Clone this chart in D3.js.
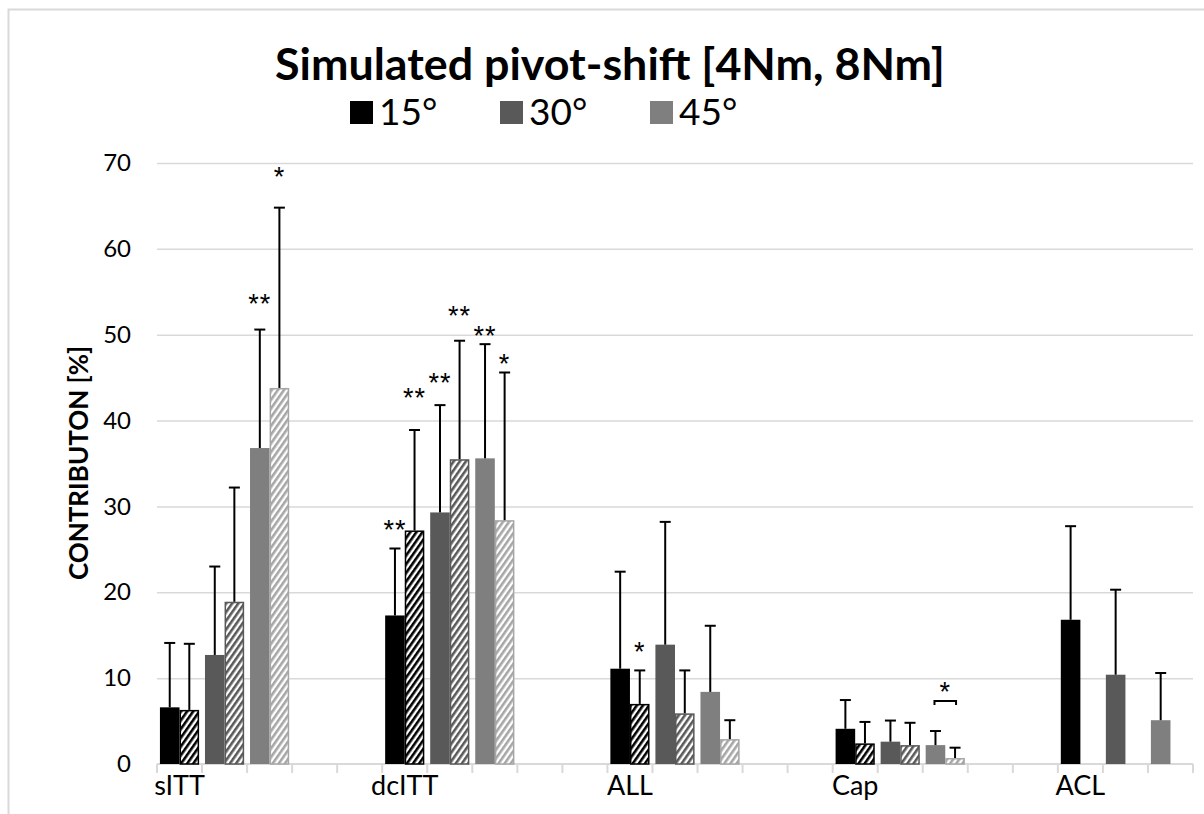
<!DOCTYPE html>
<html><head><meta charset="utf-8">
<script src="https://cdn.jsdelivr.net/npm/d3@7"></script>
<style>
html,body{margin:0;padding:0;background:#fff;}
svg{display:block;font-family:Lato,"Open Sans",sans-serif;}
</style></head>
<body>
<svg id="chart" width="1204" height="814"></svg>
<script>
// ---------- data ----------
const categories = ["sITT", "dcITT", "ALL", "Cap", "ACL"];
const angles = ["15°", "30°", "45°"];
const tickValues = [0, 10, 20, 30, 40, 50, 60, 70];
// mean contribution [%] (solid = 4Nm, hatched = 8Nm)
const solidMean = [[6.6, 12.7, 36.8], [17.3, 29.3, 35.6], [11.1, 13.9, 8.4], [4.1, 2.6, 2.2], [16.8, 10.4, 5.1]];
const solidSD   = [[7.5, 10.3, 13.8], [7.8, 12.5, 13.3], [11.3, 14.3, 7.7], [3.35, 2.46, 1.64], [10.9, 9.9, 5.5]];
const hatchMean = [[6.3, 18.9, 43.8], [27.2, 35.5, 28.4], [7.0, 5.9, 2.9], [2.4, 2.2, 0.7], [null, null, null]];
const hatchSD   = [[7.7, 13.3, 21.0], [11.7, 13.8, 17.2], [3.9, 5.0, 2.2], [2.5, 2.6, 1.2], [null, null, null]];
// significance marks: [category, angle, bar, value, text]
const sigMarks = [
  ["sITT", "45°", "solid", 54.3, "**"], ["sITT", "45°", "hatched", 69.1, "*"],
  ["dcITT", "15°", "solid", 28.0, "**"], ["dcITT", "15°", "hatched", 43.3, "**"],
  ["dcITT", "30°", "solid", 45.1, "**"], ["dcITT", "30°", "hatched", 52.9, "**"],
  ["dcITT", "45°", "solid", 50.5, "**"], ["dcITT", "45°", "hatched", 47.3, "*"],
  ["ALL", "15°", "hatched", 13.8, "*"],
  ["Cap", "45°", "bracket", 9.1, "*"]
];
const capBracket = ["Cap", "45°", 7.33];

const solidColors = ["#000000", "#595959", "#7f7f7f"];
const hatchColors = ["#000000", "#595959", "#a6a6a6"];

// ---------- layout ----------
const svg = d3.select("#chart");
const L = 157, R = 1193, T = 163, B = 764;

// slots: 3 angle slots per category + 2 gap slots between categories
const slots = [];
categories.forEach((c, gi) => {
  angles.forEach(a => slots.push(c + "|" + a));
  if (gi < categories.length - 1) { slots.push(c + "|g1"); slots.push(c + "|g2"); }
});
const x = d3.scaleBand().domain(slots).range([L, R]).padding(0);
const sub = d3.scaleBand().domain(["solid", "hatched"]).range([0, x.bandwidth()]).paddingInner(0).paddingOuter(0.15);
const y = d3.scaleLinear().domain([0, 70]).range([B, T]);

// frame
svg.append("rect").attr("x", 8.5).attr("y", 9.5).attr("width", 1300).attr("height", 900)
  .attr("fill", "none").attr("stroke", "#d9d9d9").attr("stroke-width", 2);

// patterns
const defs = svg.append("defs");
hatchColors.forEach((col, i) => {
  const p = defs.append("pattern").attr("id", "hatch" + i).attr("patternUnits", "userSpaceOnUse")
    .attr("width", 5).attr("height", 5).attr("patternTransform", "rotate(35)");
  p.append("rect").attr("width", 5).attr("height", 5).attr("fill", "#fff");
  p.append("rect").attr("width", 2.6).attr("height", 5).attr("fill", col);
});

// gridlines
const grid = svg.append("g").attr("transform", `translate(${L},0)`)
  .call(d3.axisLeft(y).tickValues(tickValues.filter(v => v > 0)).tickSize(-(R - L)).tickFormat(""));
grid.select(".domain").remove();
grid.selectAll("line").attr("stroke", "#d9d9d9").attr("stroke-width", 1.5);

// y axis labels
const yAxis = svg.append("g").attr("transform", `translate(${L},0)`)
  .call(d3.axisLeft(y).tickValues(tickValues).tickSize(0).tickPadding(26));
yAxis.select(".domain").remove();
yAxis.selectAll("text").attr("font-size", 24).attr("fill", "#000").attr("font-family", "Lato, sans-serif");

// x axis line + boundary ticks
svg.append("line").attr("x1", L).attr("x2", R).attr("y1", B).attr("y2", B)
  .attr("stroke", "#d9d9d9").attr("stroke-width", 2);
const bounds = slots.map(s => x(s)).concat([R]);
svg.append("g").selectAll("line").data(bounds).join("line")
  .attr("x1", d => d).attr("x2", d => d).attr("y1", B).attr("y2", B + 9)
  .attr("stroke", "#d9d9d9").attr("stroke-width", 2);

// category labels
const xAxis = svg.append("g").attr("transform", `translate(0,${B})`)
  .call(d3.axisBottom(x).tickValues(categories.map(c => c + "|" + angles[0])).tickSize(0).tickPadding(12)
    .tickFormat(d => d.split("|")[0]));
xAxis.select(".domain").remove();
xAxis.selectAll("text").attr("font-size", 27).attr("fill", "#000").attr("font-family", "Lato, sans-serif");

// bars
const barData = [];
categories.forEach((c, gi) => angles.forEach((a, ai) => {
  barData.push({ slot: c + "|" + a, kind: "solid", v: solidMean[gi][ai], sd: solidSD[gi][ai], ai });
  if (hatchMean[gi][ai] != null)
    barData.push({ slot: c + "|" + a, kind: "hatched", v: hatchMean[gi][ai], sd: hatchSD[gi][ai], ai });
}));
const bx = d => x(d.slot) + sub(d.kind);
svg.append("g").selectAll("rect").data(barData).join("rect")
  .attr("x", d => bx(d) + (d.kind === "hatched" ? 0.75 : 0))
  .attr("y", d => y(d.v) + (d.kind === "hatched" ? 0.75 : 0))
  .attr("width", d => sub.bandwidth() - (d.kind === "hatched" ? 1.5 : 0))
  .attr("height", d => Math.max(0, y(0) - y(d.v) - (d.kind === "hatched" ? 0.75 : 0)))
  .attr("fill", d => d.kind === "solid" ? solidColors[d.ai] : `url(#hatch${d.ai})`)
  .attr("stroke", d => d.kind === "solid" ? "none" : hatchColors[d.ai])
  .attr("stroke-width", 1.5);

// error bars
const eg = svg.append("g").attr("stroke", "#000").attr("stroke-width", 2);
barData.forEach(d => {
  const cx = bx(d) + sub.bandwidth() / 2;
  eg.append("line").attr("x1", cx).attr("x2", cx).attr("y1", y(d.v)).attr("y2", y(d.v + d.sd));
  eg.append("line").attr("x1", cx - 5.5).attr("x2", cx + 5.5).attr("y1", y(d.v + d.sd)).attr("y2", y(d.v + d.sd));
});

// significance bracket
{
  const s = capBracket[0] + "|" + capBracket[1];
  const x1 = x(s) + sub("solid") + sub.bandwidth() / 2 - 1;
  const x2 = x(s) + sub("hatched") + sub.bandwidth() / 2 + 1;
  const yy = y(capBracket[2]);
  svg.append("path").attr("d", `M${x1},${yy + 4}V${yy}H${x2}V${yy + 4}`)
    .attr("fill", "none").attr("stroke", "#000").attr("stroke-width", 2);
}

// significance stars
svg.append("g").selectAll("text").data(sigMarks).join("text")
  .attr("x", d => {
    const s = d[0] + "|" + d[1];
    if (d[2] === "bracket") return x(s) + x.bandwidth() / 2;
    return x(s) + sub(d[2]) + sub.bandwidth() / 2;
  })
  .attr("y", d => y(d[3]) + 15)
  .attr("text-anchor", "middle").attr("font-size", 27).attr("letter-spacing", 1)
  .attr("font-family", "'Liberation Sans', Arial, sans-serif").text(d => d[4]);

// y title
svg.append("text").attr("transform", "translate(88,463) rotate(-90)").attr("text-anchor", "middle")
  .attr("font-size", 26).attr("font-weight", "bold").attr("font-family", "Lato, sans-serif")
  .text("CONTRIBUTON [%]");

// chart title
const title = svg.append("text").attr("x", 610).attr("y", 80).attr("text-anchor", "middle")
  .attr("font-size", 48).attr("font-weight", "bold").attr("font-family", "Lato, sans-serif")
  .text("Simulated pivot-shift [4Nm, 8Nm]");
const tw = title.node().getComputedTextLength();
title.attr("font-size", 48 * 670 / tw);

// legend
const lg = svg.append("g");
const legX = [350, 500, 650];
angles.forEach((a, i) => {
  lg.append("rect").attr("x", legX[i]).attr("y", 101).attr("width", 23).attr("height", 23).attr("fill", solidColors[i]);
  lg.append("text").attr("x", legX[i] + 29).attr("y", 125).attr("font-size", 37)
    .attr("font-family", "Lato, sans-serif").text(a);
});
</script>
</body></html>
